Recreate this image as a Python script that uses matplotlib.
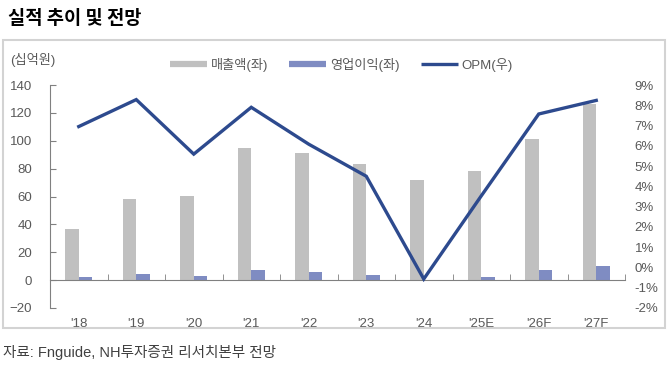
import numpy as np
import matplotlib
matplotlib.use("Agg")
import matplotlib.pyplot as plt
from matplotlib.lines import Line2D
from matplotlib.patches import Rectangle
from matplotlib.ticker import FuncFormatter

# data
years = ["'18", "'19", "'20", "'21", "'22", "'23", "'24", "'25E", "'26F", "'27F"]
sales = [37, 58, 60.5, 94.5, 91, 83, 72, 78, 101.5, 126.5]      # 매출액 (십억원)
op_profit = [2.2, 4.3, 3.1, 7.2, 5.5, 3.4, 0.3, 2.2, 7.0, 10.3]   # 영업이익 (십억원)
opm = [6.95, 8.28, 5.59, 7.9, 6.08, 4.5, -0.57, 3.53, 7.57, 8.24]  # OPM (%)

plt.rcParams['font.family'] = ['Liberation Sans', 'Noto Sans CJK KR', 'DejaVu Sans']

c_sales = '#c0c0c0'
c_op = '#7f8cc2'
c_opm = '#2d4a8e'
c_text = '#595959'

fig = plt.figure(figsize=(6.7, 3.68), dpi=100)
W, H = 670, 368

# outer frame
fig.patches.append(Rectangle((3 / W, 1 - 328 / H), 662 / W, 288 / H, transform=fig.transFigure,
                             fill=False, edgecolor='#d3d3d3', linewidth=1.5))

ax = fig.add_axes([50 / W, 1 - 308 / H, 575 / W, 223 / H])
x = np.arange(len(years))
bw = 0.235
ax.bar(x - bw / 2, sales, width=bw, color=c_sales, zorder=2)
ax.bar(x + bw / 2, op_profit, width=bw, color=c_op, zorder=2)

ax.set_xlim(-0.5, len(years) - 0.5)
ax.set_ylim(-20, 140)
ax.set_yticks(np.arange(-20, 141, 20))
ax.tick_params(axis='y', direction='in', length=4, pad=13, colors='#808080',
               labelcolor=c_text, labelsize=9.5)

for s in ['top', 'right']:
    ax.spines[s].set_visible(False)
ax.spines['left'].set_color('#808080')
ax.spines['bottom'].set_position(('data', 0))
ax.spines['bottom'].set_color('#808080')

# category boundary ticks on the zero line, labels at the bottom
ax.set_xticks(np.arange(len(years) + 1) - 0.5, minor=True)
ax.set_xticks(x)
ax.set_xticklabels(years)
ax.tick_params(axis='x', which='minor', direction='in', length=4, color='#808080')
ax.tick_params(axis='x', which='major', length=0, pad=27, labelcolor=c_text, labelsize=9.5)

ax2 = ax.twinx()
ax2.plot(x, np.array(opm) / 100, color=c_opm, linewidth=2.4, zorder=3, solid_joinstyle='miter')
ax2.set_ylim(-0.02, 0.09)
ax2.set_yticks(np.arange(-0.02, 0.0901, 0.01))
ax2.yaxis.set_major_formatter(FuncFormatter(lambda v, p: f"{v * 100:.0f}%"))
ax2.tick_params(axis='y', length=0, pad=7, labelcolor=c_text, labelsize=9.5)
for s in ax2.spines.values():
    s.set_visible(False)

# title, unit, legend, source
fig.text(8 / W, 1 - 18 / H, "실적 추이 및 전망", fontsize=13.5, fontweight='bold',
         family=['Noto Sans CJK KR'], va='center', ha='left', color='black')
fig.text(10 / W, 1 - 60 / H, "(십억원)", fontsize=9.5, color=c_text, va='center', ha='left')

handles = [Line2D([], [], color=c_sales, linewidth=4.5, solid_capstyle='butt'),
           Line2D([], [], color=c_op, linewidth=4.5, solid_capstyle='butt'),
           Line2D([], [], color=c_opm, linewidth=2.4, solid_capstyle='butt')]
labels = ["매출액(좌)", "영업이익(좌)", "OPM(우)"]
fig.legend(handles, labels, loc='center left', bbox_to_anchor=(158 / W, 1 - 65 / H), ncol=3,
           frameon=False, fontsize=9.5, handlelength=2.8, handletextpad=0.3,
           columnspacing=1.6, labelcolor=c_text)

fig.text(3 / W, 1 - 352 / H, "자료: Fnguide, NH투자증권 리서치본부 전망", fontsize=10.5,
         color='#404040', va='center', ha='left')

fig.savefig("out.png", dpi=100)
